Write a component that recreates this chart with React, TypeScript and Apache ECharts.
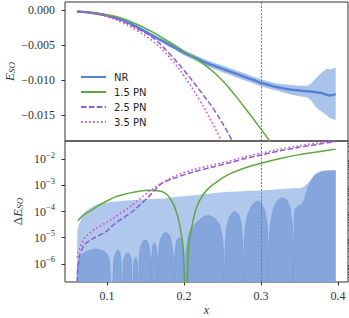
import React, { useEffect, useRef } from 'react';
import * as echarts from 'echarts';

// ---------- axes ----------
const X_MIN = 0.0455;
const X_MAX = 0.413;
const X_TICKS = [0.1, 0.2, 0.3, 0.4];
const TOP_MIN = -0.0187;
const TOP_MAX = 0.00114;
const TOP_TICKS = [0, -0.005, -0.01, -0.015];
const BOT_MIN = -6.69; // log10
const BOT_MAX = -1.31;
const BOT_TICKS = [-6, -5, -4, -3, -2];
const REF_X = 0.297;

// ---------- top panel: E_SO ----------
const X_NR = [0.061, 0.07, 0.08, 0.09, 0.10, 0.11, 0.12, 0.13, 0.14, 0.15, 0.16, 0.17, 0.18, 0.19, 0.20, 0.21, 0.22, 0.23, 0.24, 0.25, 0.26, 0.27, 0.28, 0.29, 0.30, 0.31, 0.32, 0.33, 0.34, 0.35, 0.36, 0.365, 0.37, 0.375, 0.38, 0.385, 0.39, 0.397];
const NR = [-0.0002, -0.00028, -0.0004, -0.00058, -0.0008, -0.0011, -0.00145, -0.0019, -0.0025, -0.0031, -0.0037, -0.0043, -0.0049, -0.0055, -0.0061, -0.0066, -0.0071, -0.0076, -0.008, -0.0084, -0.0088, -0.0092, -0.0096, -0.01, -0.0104, -0.0107, -0.011, -0.0112, -0.0114, -0.0115, -0.0116, -0.01165, -0.0117, -0.0118, -0.0119, -0.0121, -0.0122, -0.012];
const NR_LO = [-0.00025, -0.00033, -0.00046, -0.00066, -0.0009, -0.00122, -0.0016, -0.00208, -0.0027, -0.00333, -0.00395, -0.00458, -0.0052, -0.00583, -0.00645, -0.00698, -0.0075, -0.00802, -0.00845, -0.00887, -0.00928, -0.0097, -0.0101, -0.0105, -0.0109, -0.0112, -0.0115, -0.0118, -0.0121, -0.0123, -0.0125, -0.0129, -0.0137, -0.0142, -0.0146, -0.015, -0.0155, -0.0157];
const NR_HI = [-0.00015, -0.00023, -0.00034, -0.0005, -0.0007, -0.00098, -0.0013, -0.00172, -0.0023, -0.00287, -0.00345, -0.00402, -0.0046, -0.00517, -0.00575, -0.00622, -0.0067, -0.00718, -0.00755, -0.00793, -0.00832, -0.0087, -0.0091, -0.0095, -0.0099, -0.0102, -0.0105, -0.0106, -0.0107, -0.0108, -0.0108, -0.0105, -0.0099, -0.0093, -0.0088, -0.0084, -0.0085, -0.0082];

const X_PN15_TOP = [0.061, 0.08, 0.10, 0.12, 0.14, 0.16, 0.18, 0.20, 0.22, 0.24, 0.26, 0.28, 0.30, 0.32];
const PN15_TOP = [-0.0002, -0.00036, -0.00068, -0.0012, -0.0021, -0.0032, -0.0045, -0.0059, -0.0073, -0.009, -0.0113, -0.0141, -0.017, -0.02];
const X_PN25_TOP = [0.061, 0.08, 0.10, 0.12, 0.14, 0.16, 0.18, 0.20, 0.22, 0.24, 0.26, 0.28];
const PN25_TOP = [-0.0002, -0.00042, -0.00088, -0.0016, -0.0027, -0.004, -0.0061, -0.0086, -0.0114, -0.0144, -0.0181, -0.0225];
const X_PN35_TOP = [0.061, 0.08, 0.10, 0.12, 0.14, 0.16, 0.18, 0.20, 0.22, 0.24, 0.26];
const PN35_TOP = [-0.0002, -0.00045, -0.00095, -0.0018, -0.003, -0.0045, -0.0066, -0.0094, -0.0128, -0.0168, -0.0212];

// ---------- bottom panel: log10(ΔE_SO) ----------
const X_ENV = [0.0612, 0.0615, 0.063, 0.065, 0.0714, 0.0844, 0.0974, 0.11, 0.13, 0.1536, 0.175, 0.188, 0.22, 0.255, 0.297, 0.33, 0.344, 0.353, 0.3615, 0.37, 0.379, 0.397];
const ENV = [-7.5, -4.73, -4.55, -4.41, -4.03, -3.77, -3.68, -3.62, -3.57, -3.53, -3.5, -3.45, -3.36, -3.26, -3.2, -3.13, -3.11, -3.09, -2.9, -2.58, -2.47, -2.45];

const X_RES = [0.0612, 0.0615, 0.063, 0.065, 0.068, 0.072, 0.076, 0.08, 0.084, 0.088, 0.092, 0.096, 0.1, 0.103, 0.1065, 0.109, 0.1115, 0.1147, 0.117, 0.1185, 0.119, 0.1215, 0.125, 0.1285, 0.1315, 0.133, 0.1345, 0.1375, 0.1395, 0.141, 0.142, 0.144, 0.147, 0.15, 0.153, 0.1555, 0.1565, 0.157, 0.158, 0.1595, 0.1615, 0.1635, 0.1655, 0.166, 0.1668, 0.169, 0.173, 0.1768, 0.181, 0.184, 0.186, 0.187, 0.188, 0.1905, 0.1945, 0.198, 0.2, 0.2013, 0.2025, 0.205, 0.2078, 0.2165, 0.225, 0.232, 0.24, 0.246, 0.25, 0.2515, 0.2524, 0.2535, 0.2555, 0.259, 0.265, 0.271, 0.2745, 0.2762, 0.277, 0.278, 0.2795, 0.283, 0.288, 0.294, 0.3, 0.305, 0.308, 0.309, 0.3095, 0.3105, 0.312, 0.316, 0.321, 0.327, 0.333, 0.338, 0.3405, 0.3415, 0.342, 0.343, 0.344, 0.348, 0.353, 0.357, 0.3615, 0.366, 0.37, 0.375, 0.379, 0.385, 0.397];
const RES = [-7.5, -6.0, -5.9, -5.75, -5.62, -5.55, -5.5, -5.47, -5.43, -5.45, -5.48, -5.52, -5.62, -5.85, -7.5, -5.8, -5.55, -5.46, -5.6, -5.95, -7.5, -5.85, -5.6, -5.58, -5.8, -7.5, -5.95, -5.74, -5.95, -7.5, -5.7, -5.3, -5.12, -5.08, -5.15, -5.5, -6.0, -7.5, -5.7, -5.3, -5.2, -5.3, -5.8, -7.5, -5.6, -5.1, -4.85, -4.8, -4.9, -5.2, -5.7, -7.5, -5.6, -5.1, -4.99, -5.1, -5.6, -7.5, -5.6, -5.0, -4.73, -4.41, -4.2, -4.15, -4.25, -4.5, -5.0, -5.6, -7.5, -5.3, -4.6, -4.2, -3.99, -4.1, -4.5, -5.2, -7.5, -5.3, -4.6, -4.1, -3.78, -3.6, -3.65, -3.95, -4.5, -5.2, -7.5, -5.2, -4.5, -3.9, -3.6, -3.47, -3.55, -3.85, -4.5, -5.2, -7.5, -4.6, -3.92, -3.8, -3.73, -3.5, -3.03, -2.8, -2.62, -2.53, -2.47, -2.45, -2.44];

const X_PN15_BOT = [0.062, 0.07, 0.08, 0.089, 0.1, 0.11, 0.12, 0.132, 0.142, 0.152, 0.162, 0.171, 0.178, 0.186, 0.191, 0.195, 0.199, 0.2026, 0.206, 0.21, 0.2165, 0.225, 0.234, 0.245, 0.2555, 0.277, 0.299, 0.325, 0.35, 0.375, 0.397];
const PN15_BOT = [-4.35, -4.12, -3.95, -3.77, -3.6, -3.45, -3.36, -3.28, -3.23, -3.19, -3.2, -3.24, -3.35, -3.7, -4.1, -4.6, -5.4, -8, -5.4, -4.6, -3.83, -3.35, -3.06, -2.82, -2.62, -2.36, -2.17, -1.98, -1.83, -1.72, -1.62];
const X_PN25_BOT = [0.0612, 0.0618, 0.063, 0.065, 0.0714, 0.0844, 0.0974, 0.11, 0.132, 0.1536, 0.171, 0.19, 0.212, 0.235, 0.2555, 0.277, 0.299, 0.325, 0.35, 0.375, 0.397];
const PN25_BOT = [-7.0, -6.3, -6.0, -5.62, -5.24, -4.99, -4.8, -4.47, -4.03, -3.45, -2.93, -2.7, -2.49, -2.32, -2.17, -2.0, -1.85, -1.68, -1.55, -1.43, -1.33];
const X_PN35_BOT = [0.0615, 0.0625, 0.065, 0.0714, 0.0844, 0.0974, 0.11, 0.132, 0.1536, 0.171, 0.19, 0.212, 0.235, 0.2555, 0.277, 0.299, 0.325, 0.35, 0.375, 0.397];
const PN35_BOT = [-5.75, -5.56, -5.37, -4.99, -4.67, -4.45, -4.22, -3.77, -3.26, -2.91, -2.62, -2.4, -2.24, -2.1, -1.93, -1.78, -1.62, -1.49, -1.38, -1.28];

const LEGEND = ['NR', '1.5 PN', '2.5 PN', '3.5 PN'];

// ---------- styles ----------
const C_NR = '#5582d2';
const C_BAND = '#aac3ea';
const C_ENV = '#b0c8ec';
const C_RES = '#84a6dc';
const C_RES_EDGE = '#7096d6';
const C_15 = '#5da93f';
const C_25 = '#8a5dd8';
const C_35 = '#d84fc0';
const SERIF = 'Liberation Serif';
const TXT = '#333';

const zip = (xs: number[], ys: number[]) => xs.map((x, i) => [x, ys[i]]);

const minorLog: number[] = [];
for (let n = -8; n <= -1; n++) {
  for (let k = 2; k <= 9; k++) {
    const v = n + Math.log10(k);
    if (v > BOT_MIN && v < BOT_MAX) minorLog.push(v);
  }
}

const refLine = {
  silent: true,
  symbol: ['none', 'none'],
  label: { show: false },
  lineStyle: { color: '#777', width: 1, type: [2, 1.5] },
  data: [{ xAxis: REF_X }],
};

function buildOption() {
  const gridCommon = {
    left: 65,
    width: 283,
    show: true,
    borderColor: '#333',
    borderWidth: 1,
    backgroundColor: 'transparent',
    containLabel: false,
    outerBoundsMode: 'none',
  };
  const labelStyle = { fontFamily: SERIF, fontSize: 12, color: TXT };
  return {
    animation: false,
    backgroundColor: '#fff',
    grid: [
      { ...gridCommon, top: 2, height: 139 },
      { ...gridCommon, top: 141, height: 141 },
    ],
    legend: {
      data: LEGEND,
      orient: 'vertical',
      left: 75,
      top: 67,
      itemWidth: 25,
      itemHeight: 12,
      itemGap: 5,
      selectedMode: false,
      itemStyle: { opacity: 0 },
      textStyle: { fontFamily: 'DejaVu Sans', fontSize: 10, color: '#222', padding: [0, 0, 0, 3] },
    },
    xAxis: [
      {
        type: 'value', gridIndex: 0, min: X_MIN, max: X_MAX,
        axisLine: { show: false }, axisTick: { show: false }, axisLabel: { show: false }, splitLine: { show: false },
      },
      {
        type: 'value', gridIndex: 1, min: X_MIN, max: X_MAX,
        axisLine: { show: false },
        axisTick: { show: true, length: 3.5, lineStyle: { color: '#333' }, customValues: X_TICKS },
        axisLabel: { ...labelStyle, margin: 8, customValues: X_TICKS, formatter: (v: number) => v.toFixed(1) },
        splitLine: { show: false },
        name: 'x', nameLocation: 'middle', nameGap: 22,
        nameTextStyle: { fontFamily: SERIF, fontStyle: 'italic', fontSize: 12, color: TXT },
      },
    ],
    yAxis: [
      {
        type: 'value', gridIndex: 0, min: TOP_MIN, max: TOP_MAX,
        axisLine: { show: false },
        axisTick: { show: true, length: 3.5, lineStyle: { color: '#333' }, customValues: TOP_TICKS },
        axisLabel: {
          ...labelStyle, margin: 10, customValues: TOP_TICKS,
          formatter: (v: number) => (v === 0 ? '0.000' : '\u2212' + Math.abs(v).toFixed(3)),
        },
        splitLine: { show: false },
        name: '{i|E}{s|SO}', nameLocation: 'middle', nameGap: 49, nameRotate: 90, nameMoveOverlap: false,
        nameTextStyle: {
          rich: {
            i: { fontFamily: SERIF, fontStyle: 'italic', fontSize: 13, color: TXT, lineHeight: 13 },
            s: { fontFamily: SERIF, fontStyle: 'italic', fontSize: 9, color: TXT, verticalAlign: 'bottom' },
          },
        },
      },
      {
        type: 'value', gridIndex: 1, min: BOT_MIN, max: BOT_MAX,
        axisLine: { show: false },
        axisTick: { show: true, length: 3.5, lineStyle: { color: '#333' }, customValues: BOT_TICKS },
        axisLabel: {
          margin: 10, customValues: BOT_TICKS,
          formatter: (v: number) => `{b|10}{s|\u2212${Math.abs(Math.round(v))}}`,
          rich: {
            b: { fontFamily: SERIF, fontSize: 12, color: TXT, lineHeight: 18 },
            s: { fontFamily: SERIF, fontSize: 8.5, color: TXT, verticalAlign: 'top' },
          },
        },
        splitLine: { show: false },
        name: '{d|\u0394}{i|E}{s|SO}', nameLocation: 'middle', nameGap: 41, nameRotate: 90, nameMoveOverlap: false,
        nameTextStyle: {
          rich: {
            d: { fontFamily: SERIF, fontSize: 13, color: TXT, lineHeight: 13 },
            i: { fontFamily: SERIF, fontStyle: 'italic', fontSize: 13, color: TXT, lineHeight: 13 },
            s: { fontFamily: SERIF, fontStyle: 'italic', fontSize: 9, color: TXT, verticalAlign: 'bottom' },
          },
        },
      },
      {
        type: 'value', gridIndex: 1, min: BOT_MIN, max: BOT_MAX,
        axisLine: { show: false },
        axisTick: { show: true, length: 2, lineStyle: { color: '#333', width: 0.8 }, customValues: minorLog },
        axisLabel: { show: false },
        splitLine: { show: false },
      },
    ],
    series: [
      // ---- top ----
      {
        name: 'band', type: 'custom', xAxisIndex: 0, yAxisIndex: 0, silent: true, clip: true,
        data: [[X_NR[0], NR[0]]],
        renderItem: (_params: any, api: any) => {
          const upper = X_NR.map((x, i) => api.coord([x, NR_HI[i]]));
          const lower = X_NR.map((x, i) => api.coord([x, NR_LO[i]])).reverse();
          return {
            type: 'polygon',
            shape: { points: upper.concat(lower) },
            style: { fill: C_BAND, stroke: 'none' },
          };
        },
      },
      {
        name: 'NR', type: 'line', xAxisIndex: 0, yAxisIndex: 0, data: zip(X_NR, NR), symbol: 'none',
        smooth: 0.3, lineStyle: { color: C_NR, width: 2.5 }, itemStyle: { color: C_NR },
      },
      {
        name: '1.5 PN', type: 'line', xAxisIndex: 0, yAxisIndex: 0, data: zip(X_PN15_TOP, PN15_TOP), symbol: 'none',
        smooth: 0.4, lineStyle: { color: C_15, width: 1.5 }, itemStyle: { color: C_15 },
      },
      {
        name: '2.5 PN', type: 'line', xAxisIndex: 0, yAxisIndex: 0, data: zip(X_PN25_TOP, PN25_TOP), symbol: 'none',
        smooth: 0.4, lineStyle: { color: C_25, width: 1.5, type: [5.5, 2.4] }, itemStyle: { color: C_25 },
      },
      {
        name: '3.5 PN', type: 'line', xAxisIndex: 0, yAxisIndex: 0, data: zip(X_PN35_TOP, PN35_TOP), symbol: 'none',
        smooth: 0.4, lineStyle: { color: C_35, width: 1.6, type: [1.6, 2.4] }, itemStyle: { color: C_35 },
        markLine: refLine,
      },
      // ---- bottom ----
      {
        name: 'env', type: 'line', xAxisIndex: 1, yAxisIndex: 1, data: zip(X_ENV, ENV), symbol: 'none',
        smooth: 0.25, lineStyle: { width: 0, opacity: 0 }, areaStyle: { color: C_ENV, opacity: 1, origin: 'start' }, silent: true,
      },
      {
        name: 'res', type: 'line', xAxisIndex: 1, yAxisIndex: 1, data: zip(X_RES, RES), symbol: 'none',
        lineStyle: { width: 0.6, color: C_RES_EDGE }, areaStyle: { color: C_RES, opacity: 1, origin: 'start' }, silent: true,
      },
      {
        name: 'd15', type: 'line', xAxisIndex: 1, yAxisIndex: 1, data: zip(X_PN15_BOT, PN15_BOT), symbol: 'none',
        smooth: 0.2, lineStyle: { color: C_15, width: 1.5 },
      },
      {
        name: 'd25', type: 'line', xAxisIndex: 1, yAxisIndex: 1, data: zip(X_PN25_BOT, PN25_BOT), symbol: 'none',
        smooth: 0.2, lineStyle: { color: C_25, width: 1.5, type: [5.5, 2.4] },
      },
      {
        name: 'd35', type: 'line', xAxisIndex: 1, yAxisIndex: 1, data: zip(X_PN35_BOT, PN35_BOT), symbol: 'none',
        smooth: 0.2, lineStyle: { color: C_35, width: 1.6, type: [1.6, 2.4] },
        markLine: refLine,
      },
    ],
  };
}

export default function App() {
  const ref = useRef<HTMLDivElement>(null);
  useEffect(() => {
    if (!ref.current) return;
    const chart = echarts.init(ref.current, undefined, { renderer: 'svg' });
    chart.setOption(buildOption() as any);
    return () => chart.dispose();
  }, []);
  return (
    <div
      ref={ref}
      style={{ position: 'fixed', left: 0, top: 0, width: 349, height: 318, background: '#fff' }}
    />
  );
}
